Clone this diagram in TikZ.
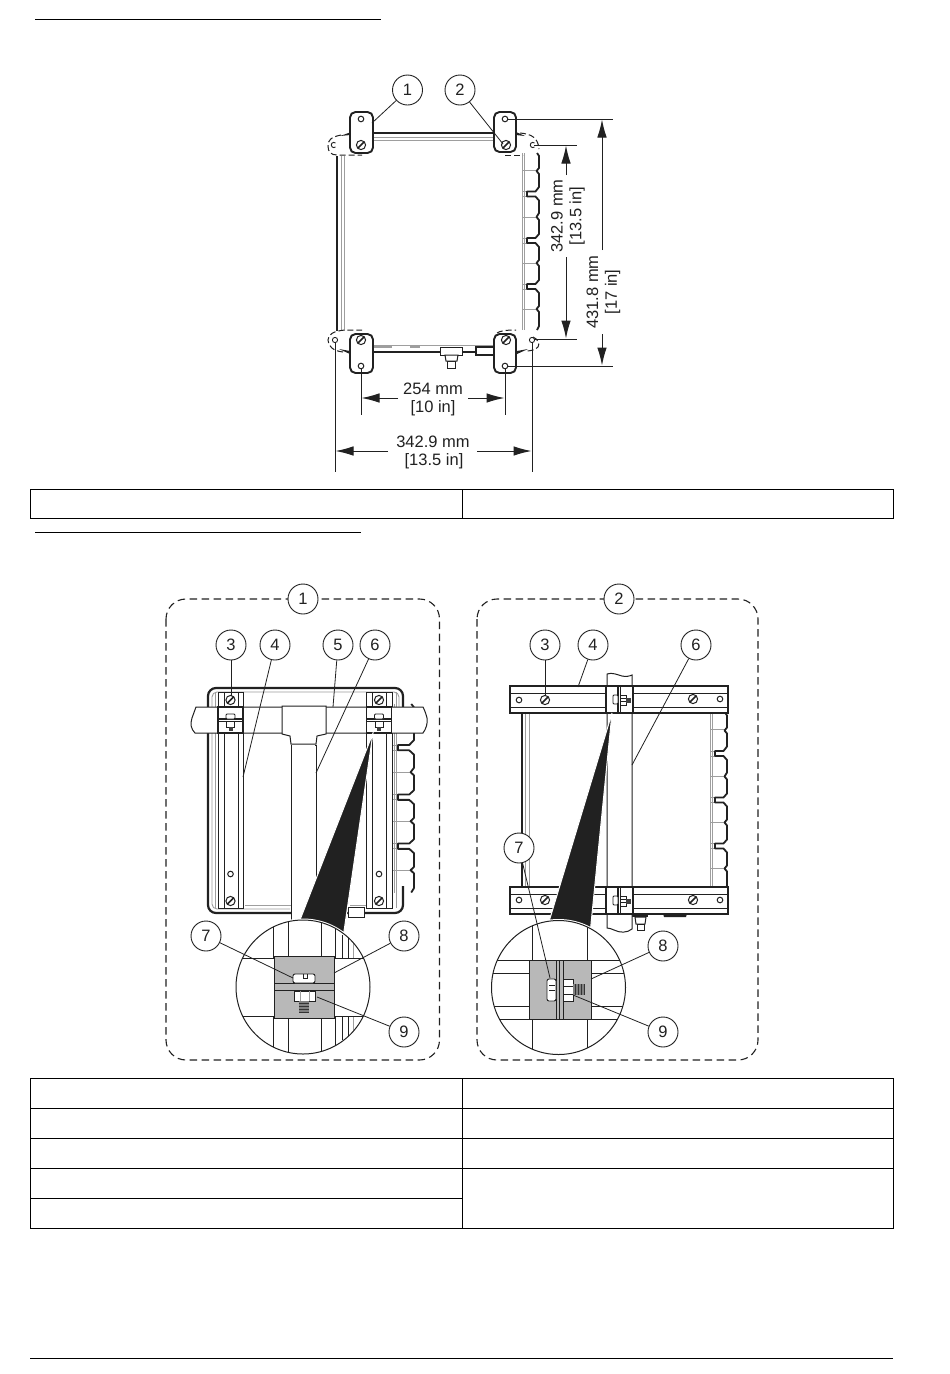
\documentclass[tikz,border=0pt]{standalone}
\usepackage{fontspec}
\setmainfont{Liberation Sans}
\usetikzlibrary{arrows.meta}
\definecolor{ink}{gray}{0.13}
\definecolor{pale}{gray}{0.62}
\definecolor{plate}{gray}{0.72}
\tikzset{
  num/.style={circle,draw=ink,line width=0.9pt,fill=white,minimum size=30pt,inner sep=0pt,font=\fontsize{16.5}{18}\selectfont,text=ink},
  leader/.style={draw=ink,line width=0.8pt},
  dimtxt/.style={font=\fontsize{16.5}{18}\selectfont,text=ink,inner sep=0pt},
  extline/.style={draw=ink,line width=1pt},
  dimline/.style={draw=ink,line width=1pt,-{Latex[length=18pt,width=9.5pt]}},
  tabline/.style={draw=black,line width=0.9pt},
  ruleline/.style={draw=black,line width=0.9pt},
  dashframe/.style={draw=ink,line width=1.1pt,dash pattern=on 7.5pt off 4.5pt,rounded corners=20pt},
  cornerdash/.style={draw=ink,line width=1pt,dash pattern=on 6pt off 3pt},
  thickedge/.style={draw=ink,line width=2.2pt},
  thinedge/.style={draw=ink,line width=1pt},
  paleedge/.style={draw=pale,line width=0.9pt},
  bracket/.style={draw=ink,line width=1.9pt,fill=white,rounded corners=5.5pt},
  wedge/.style={fill=ink,draw=white,line width=1pt},
  slotscrew/.pic={\draw[ink,line width=1pt,fill=white] (0,0) circle (4.6);
     \draw[ink,line width=1.7pt] (-3.2,3.2) -- (3.2,-3.2);},
  smallhole/.pic={\draw[ink,line width=1pt,fill=white] (0,0) circle (2.8);},
}
\newcommand\bumpcol[4]{%
\begin{scope}[shift={(#1,#2)},xscale=#3,yscale=#4]
\draw[paleedge] (0,0) -- (0,177) (2.5,0) -- (2.5,177);
\draw[paleedge] (0,17) -- (14,17) (0,64) -- (14,64) (0,110) -- (14,110) (0,156) -- (14,156)
  (0,38.5) -- (5,38.5) (0,43.5) -- (5,43.5) (0,85) -- (5,85) (0,90) -- (5,90) (0,131) -- (5,131) (0,136) -- (5,136);
\draw[ink,line width=1.8pt,line join=round] (15,0) -- (17,3) -- (17,15) -- (14.5,18) -- (17,21) -- (17,34) -- (13.5,38.5) -- (5,38.5) -- (5,43.5) -- (13.5,43.5) -- (17,47.5) -- (17,60) -- (14.5,64) -- (17,67) -- (17,81) -- (13.5,85) -- (5,85) -- (5,90) -- (13.5,90) -- (17,94) -- (17,107) -- (14.5,110) -- (17,113) -- (17,127) -- (13.5,131) -- (5,131) -- (5,136) -- (13.5,136) -- (17,140) -- (17,153) -- (14.5,156) -- (17,159) -- (17,173) -- (15,177);
\end{scope}}
\newcommand\clampH[1]{%
\begin{scope}[shift={(#1,0)}]
\draw[ink,line width=1.1pt,fill=white] (-12.5,707) rectangle (12.5,733);
\draw[ink,line width=1.1pt] (-12.5,719) -- (12.5,719) (-12.5,721.5) -- (12.5,721.5);
\draw[ink,line width=0.8pt,fill=white,rounded corners=1pt] (-4.5,714) rectangle (4.5,719);
\draw[ink,line width=0.8pt,fill=white] (-4,721.5) rectangle (4,727);
\fill[black!75] (-2,727) rectangle (2,731);
\end{scope}}
\newcommand\clampV[1]{%
\begin{scope}[shift={(0,#1)}]
\draw[ink,line width=1.1pt,fill=white] (606,0) rectangle (633,27);
\draw[ink,line width=1.1pt] (618,0) -- (618,27) (620.5,0) -- (620.5,27);
\draw[ink,line width=0.8pt,fill=white,rounded corners=1pt] (613,9) rectangle (618,18);
\draw[ink,line width=0.8pt,fill=white] (620.5,9) rectangle (626,19) (620.5,12) -- (626,12) (620.5,15.5) -- (626,15.5);
\fill[black!75] (626,11.5) rectangle (631,16.5);
\end{scope}}
\newcommand\railH[1]{%
\begin{scope}[shift={(0,#1)}]
\draw[ink,line width=1.1pt,fill=white] (510,0) rectangle (728,27);
\draw[ink,line width=1pt] (510,7) -- (728,7) (510,21) -- (728,21);
\draw[ink,line width=1.6pt] (510,27) -- (728,27);
\end{scope}}
\begin{document}
\begin{tikzpicture}[x=1pt,y=-1pt]
\useasboundingbox (0,0) rectangle (950,1374);
\fill[white] (0,0) rectangle (950,1374);
% page rules
\draw[ruleline] (35,19) -- (381,19);
\draw[ruleline] (35,532) -- (361,532);
\draw[ruleline] (30,1358) -- (893,1358);
% table 1
\draw[tabline] (30,489) rectangle (893,518) (462,489) -- (462,518);
% table 2
\draw[tabline] (30,1078) rectangle (893,1228) (462,1078) -- (462,1228)
  (30,1108) -- (893,1108) (30,1138) -- (893,1138) (30,1168) -- (893,1168) (30,1198) -- (462,1198);

%%%% TOP DIAGRAM
\draw[thickedge] (337,156) -- (337,331);
\draw[paleedge] (341.5,156) -- (341.5,331) (344.5,156) -- (344.5,331);
\draw[thickedge] (372,133) -- (495,133);
\draw[paleedge] (372,137) -- (495,137) (372,140) -- (495,140);
\draw[thickedge] (372,352) -- (495,352);
\draw[paleedge] (372,345.5) -- (495,345.5);
\draw[draw=pale,line width=1.6pt] (374,347) -- (392,347) (410,347) -- (420,347);
\bumpcol{522}{153}{1}{1}
% bottom mount
\draw[thinedge,fill=white] (440,347) rectangle (462,355);
\draw[thinedge,fill=white] (447.5,361) rectangle (455.5,368);
\draw[thinedge,fill=white] (445,355) -- (458,355) -- (457,361) -- (446,361) -- cycle;
\draw[draw=ink,line width=1.2pt,fill=white] (476,347) rectangle (495,355);
% dark stubs beside brackets
\fill[ink] (340,136) -- (350,132.5) -- (350,135) -- cycle;
\fill[ink] (516,132) -- (525,136) -- (516,135) -- cycle;
\fill[ink] (339,349) -- (350,351) -- (350,354) -- cycle;
\fill[ink] (517,351) -- (528,349) -- (517,354) -- cycle;
% corner dashes
\draw[cornerdash] (341,135) .. controls (331,137) and (328,140) .. (328,146) .. controls (328,152) and (331,155) .. (337,155) -- (362,155);
\draw[cornerdash] (520,133) .. controls (532,134) and (538,138) .. (539,149);
\draw[cornerdash] (505,155) -- (523,155);
\draw[cornerdash] (343,352) .. controls (333,351) and (328,346) .. (328,340) .. controls (328,334) and (334,331) .. (345,330) -- (362,330);
\draw[cornerdash] (497,333) .. controls (500,331) and (505,330) .. (516,330);
\draw[cornerdash] (533,337) .. controls (538,339) and (540,344) .. (538,347) .. controls (535,350) and (531,351) .. (525,351);
\draw[ink,line width=0.9pt] (335.5,143) arc (-50:-310:2.6);
\draw[ink,line width=0.9pt] (534.5,143) arc (-50:-310:2.6);
\draw[ink,line width=0.9pt] (335,340) circle (2.6);
\draw[ink,line width=0.9pt] (532,340) circle (2.6);
% brackets
\draw[bracket] (350,112) rectangle (373,153);
\draw[bracket] (494,112) rectangle (516,152);
\draw[bracket] (350,334) rectangle (373,373);
\draw[bracket] (494,334) rectangle (516,373);
\pic at (361,145) {slotscrew};
\pic at (506,145) {slotscrew};
\pic at (361,340) {slotscrew};
\pic at (506,340) {slotscrew};
\pic at (361,119) {smallhole};
\pic at (505,119) {smallhole};
\pic at (361,366) {smallhole};
\pic at (505,366) {smallhole};
% callouts
\node[num] (t1) at (407.5,90) {1};
\node[num] (t2) at (460,90) {2};
\coordinate (t1e) at (372,123);
\coordinate (t2e) at (503,144);
\draw[leader] (t1) -- (t1e);
\draw[leader] (t2) -- (t2e);
% dimension extension lines
\coordinate (eTH) at (508,119); \coordinate (eTHr) at (613,119);
\coordinate (eTI) at (534,145); \coordinate (eTIr) at (577,145);
\coordinate (eBI) at (534,339); \coordinate (eBIr) at (577,339);
\coordinate (eBH) at (508,366); \coordinate (eBHr) at (613,366);
\coordinate (eLH) at (361,369); \coordinate (eLHd) at (361,415);
\coordinate (eRH) at (505,369); \coordinate (eRHd) at (505,415);
\coordinate (eLO) at (335,342); \coordinate (eLOd) at (335,472);
\coordinate (eRO) at (532,342); \coordinate (eROd) at (532,472);
\draw[extline] (eTH) -- (eTHr);
\draw[extline] (eTI) -- (eTIr);
\draw[extline] (eBI) -- (eBIr);
\draw[extline] (eBH) -- (eBHr);
\draw[extline] (eLH) -- (eLHd);
\draw[extline] (eRH) -- (eRHd);
\draw[extline] (eLO) -- (eLOd);
\draw[extline] (eRO) -- (eROd);
% dimension texts
\node[dimtxt] (d1a) at (433,388.5) {254 mm};
\node[dimtxt] (d1b) at (433,408) {[10 in]};
\node[dimtxt] (d2a) at (433,441.5) {342.9 mm};
\node[dimtxt] (d2b) at (434,461) {[13.5 in]};
\node[dimtxt,rotate=90] (d3a) at (557,216) {342.9 mm};
\node[dimtxt,rotate=90] (d3b) at (577,216) {[13.5 in]};
\node[dimtxt,rotate=90] (d4a) at (592.5,292) {431.8 mm};
\node[dimtxt,rotate=90] (d4b) at (612.5,292) {[17 in]};
% dimension arrows
\coordinate (a1l) at (398,398); \coordinate (a1r) at (468,398);
\coordinate (a1L) at (361.5,398); \coordinate (a1R) at (504.5,398);
\draw[dimline] (a1l) -- (a1L); \draw[dimline] (a1r) -- (a1R);
\coordinate (a2l) at (388,451); \coordinate (a2r) at (477,451);
\coordinate (a2L) at (335.5,451); \coordinate (a2R) at (531.5,451);
\draw[dimline] (a2l) -- (a2L); \draw[dimline] (a2r) -- (a2R);
\coordinate (a3t) at (566,175); \coordinate (a3b) at (566,257);
\coordinate (a3T) at (566,145.5); \coordinate (a3B) at (566,338.5);
\draw[dimline] (a3t) -- (a3T); \draw[dimline] (a3b) -- (a3B);
\coordinate (a4t) at (602,250); \coordinate (a4b) at (602,334);
\coordinate (a4T) at (602,119.5); \coordinate (a4B) at (602,365.5);
\draw[dimline] (a4t) -- (a4T); \draw[dimline] (a4b) -- (a4B);

%%%% LEFT FIGURE
\draw[dashframe] (166,599) rectangle (439.5,1060);
% enclosure
\draw[thickedge,rounded corners=8pt] (403,720) -- (403,688) -- (208,688) -- (208,913) -- (403,913) -- (403,886);
\draw[paleedge,rounded corners=5pt] (399,720) -- (399,692) -- (212,692) -- (212,909) -- (290,909);
\draw[paleedge] (215,692) -- (215,908);
\draw[paleedge] (245,905) -- (292,905) (350,905) -- (366,905);
\draw[paleedge] (396,692) -- (396,908);
\bumpcol{391.3}{704}{1.33}{1.065}
\draw[thinedge,fill=white] (348,907) rectangle (364,917);
% rails
\draw[thinedge,fill=white] (218,692) rectangle (243,908);
\draw[thinedge] (224,692) -- (224,908) (238,692) -- (238,908);
\draw[thinedge,fill=white] (366,692) rectangle (392,908);
\draw[thinedge] (372,692) -- (372,908) (386,692) -- (386,908);
\fill[white] (225,693) rectangle (237,907);
\fill[white] (373,693) rectangle (385,907);
\pic at (230.5,700) {slotscrew};
\pic at (230.5,874) {smallhole};
\pic at (230.5,901) {slotscrew};
\pic at (379,700) {slotscrew};
\pic at (379,874) {smallhole};
\pic at (379,901) {slotscrew};
% pipe
\draw[thinedge,fill=white] (196,707) -- (192,718) .. controls (190,724) and (191,729) .. (195,733) -- (423,733) .. controls (426,729) and (428,723) .. (427,718) .. controls (426,714) and (425,711) .. (423,707) -- cycle;
\draw[thinedge,fill=white] (291,745) rectangle (316,930);
\fill[white] (292,744) rectangle (315,922);
\draw[thinedge,fill=white] (282,706) -- (326,706) -- (326,734) -- (317,736) -- (316,744) -- (291,744) -- (290,736) -- (282,734) -- cycle;
\clampH{230.5}
\clampH{379}
% wedge + inset
\draw[wedge] (373,733) -- (298,925) -- (343,938) -- cycle;
\begin{scope}
\fill[white] (303,987) circle (68.5);
\clip (303,987) circle (67);
\draw[thinedge] (273,920) -- (273,1054) (288,920) -- (288,1054) (321,920) -- (321,1054) (335,920) -- (335,1054);
\draw[thinedge] (342,935) -- (342,1040) (348,935) -- (348,1040);
\draw[paleedge] (353,940) -- (353,1036);
\fill[white] (236,958) rectangle (370,1016);
\draw[thinedge] (236,958) -- (370,958) (236,1016) -- (370,1016);
\draw[thinedge,fill=plate] (274,956) rectangle (334,1018);
\draw[thinedge] (274,983.5) -- (334,983.5) (274,990.5) -- (334,990.5);
\draw[draw=ink,line width=0.9pt,fill=white,rounded corners=2pt] (293,974) rectangle (315,983);
\draw[draw=ink,line width=0.8pt] (303,974) -- (303,978) -- (307,978) -- (307,974);
\draw[thinedge,fill=white] (294,991) rectangle (315,1001);
\draw[draw=pale,line width=0.7pt] (300,991) -- (300,1001) (309,991) -- (309,1001);
\fill[black!50] (299,1001) rectangle (309,1013);
\foreach \ty in {1003,1006,1009,1012} {\draw[black!80,line width=0.7pt] (299,\ty) -- (309,\ty);}
\end{scope}
\draw[ink,line width=1pt] (303,987) circle (67);
% callouts
\node[num] (a1) at (303,599) {1};
\node[num] (a3) at (231,645) {3};
\node[num] (a4) at (275,645) {4};
\node[num] (a5) at (338,645) {5};
\node[num] (a6) at (375,645) {6};
\node[num] (a7) at (206,936) {7};
\node[num] (a8) at (404,936) {8};
\node[num] (a9) at (404,1032) {9};
\coordinate (a3e) at (231,696); \coordinate (a4e) at (243,777);
\coordinate (a5e) at (333,707); \coordinate (a6e) at (316,773);
\coordinate (a7e) at (293,978); \coordinate (a8e) at (334,973);
\coordinate (a9e) at (317,997);
\draw[leader] (a3) -- (a3e);
\draw[leader] (a4) -- (a4e);
\draw[leader] (a5) -- (a5e);
\draw[leader] (a6) -- (a6e);
\draw[leader] (a7) -- (a7e);
\draw[leader] (a8) -- (a8e);
\draw[leader] (a9) -- (a9e);

%%%% RIGHT FIGURE
\draw[dashframe] (477,599) rectangle (758,1060);
% enclosure
\draw[thickedge] (522,712) -- (522,888);
\draw[paleedge] (525.5,712) -- (525.5,888) (529,712) -- (529,888);
\bumpcol{710}{712.5}{1}{1}
% rails
\railH{686}
\railH{887}
\pic at (519,700) {smallhole};
\pic at (545,700) {slotscrew};
\pic at (693,699) {slotscrew};
\pic at (720,699) {smallhole};
\pic at (519,900) {smallhole};
\pic at (545,900) {slotscrew};
\pic at (693,900) {slotscrew};
\pic at (720,900) {smallhole};
% parts below the bottom rail
\fill[ink] (632,913) rectangle (648,917);
\draw[thinedge,fill=white] (635,917) -- (646,917) -- (645,924) -- (636,924) -- cycle;
\draw[thinedge,fill=white] (637,924) rectangle (644,930);
\fill[ink] (663,913.5) -- (687,913.5) -- (686,917) -- (664,917) -- cycle;
% vertical pipe
\draw[thinedge,fill=white] (607,674) .. controls (612,672) and (618,675) .. (622,676) .. controls (626,677) and (630,676) .. (632,675) -- (632,929) .. controls (627,933) and (620,933) .. (614,930) .. controls (612,929) and (609,928) .. (607,928) -- cycle;
\clampV{686}
\clampV{887}
% wedge + inset
\draw[wedge] (612,713) -- (548,925) -- (590,934) -- cycle;
\begin{scope}
\fill[white] (558.5,987.5) circle (68.5);
\clip (558.5,987.5) circle (67);
\draw[thinedge] (532,920) -- (532,1054) (587,920) -- (587,1054);
\fill[white] (490,960) rectangle (627,1019);
\draw[thinedge] (490,960) -- (627,960) (490,1019) -- (627,1019) (490,973) -- (627,973) (490,1006) -- (627,1006);
\draw[thinedge,fill=plate] (529,960) rectangle (591,1019);
\draw[thinedge] (556,960) -- (556,1019) (559.5,960) -- (559.5,1019) (563,960) -- (563,1019);
\draw[draw=ink,line width=0.9pt,fill=white,rounded corners=2pt] (547,979) rectangle (556,1001);
\draw[ink,line width=1pt] (549,985) -- (555,985) (549,990) -- (555,990);
\draw[thinedge,fill=white] (563,979) rectangle (573,1001) (563,986) -- (573,986) (563,994) -- (573,994);
\fill[black!50] (573,984) rectangle (585,995);
\foreach \tx in {575,578,581,584} {\draw[black!80,line width=0.7pt] (\tx,984) -- (\tx,995);}
\end{scope}
\draw[ink,line width=1pt] (558.5,987.5) circle (67);
% callouts
\node[num] (b2) at (619,599) {2};
\node[num] (b3) at (545,645) {3};
\node[num] (b4) at (593,645) {4};
\node[num] (b6) at (696,645) {6};
\node[num] (b7) at (519,848) {7};
\node[num] (b8) at (663,946) {8};
\node[num] (b9) at (663,1032) {9};
\coordinate (b3e) at (545,696); \coordinate (b4e) at (578,687);
\coordinate (b6e) at (632,765); \coordinate (b7e) at (550,978);
\coordinate (b8e) at (591,979); \coordinate (b9e) at (573,995);
\draw[leader] (b3) -- (b3e);
\draw[leader] (b4) -- (b4e);
\draw[leader] (b6) -- (b6e);
\draw[leader] (b7) -- (b7e);
\draw[leader] (b8) -- (b8e);
\draw[leader] (b9) -- (b9e);
\end{tikzpicture}
\end{document}
